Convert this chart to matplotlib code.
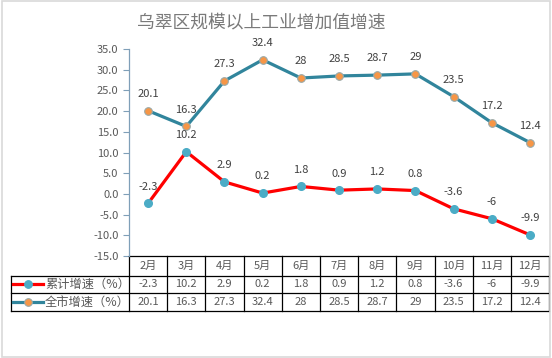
import matplotlib.pyplot as plt
from matplotlib.patches import Rectangle

plt.rcParams['font.family'] = ['Noto Sans CJK SC', 'DejaVu Sans']

months = ['2月', '3月', '4月', '5月', '6月', '7月', '8月', '9月', '10月', '11月', '12月']
cum_vals = [-2.3, 10.2, 2.9, 0.2, 1.8, 0.9, 1.2, 0.8, -3.6, -6, -9.9]
city_vals = [20.1, 16.3, 27.3, 32.4, 28, 28.5, 28.7, 29, 23.5, 17.2, 12.4]
cum_name = '累计增速（%）'
city_name = '全市增速（%）'
title = '乌翠区规模以上工业增加值增速'

gray = '#595959'
red = '#FF0000'
teal = '#31859C'
blue_mk = '#4BACC6'
orange_mk = '#F79646'

fig = plt.figure(figsize=(5.52, 3.58), dpi=100)
fig.patches.append(Rectangle((0.003, 0.004), 0.993, 0.993, transform=fig.transFigure,
                             fill=False, edgecolor='#D9D9D9', lw=1.2))
fig.text(0.473, 0.937, title, ha='center', va='center', fontsize=12.8, color='#7A7A7A')

ax = fig.add_axes([0.2337, 0.285, 0.761, 0.578])
x = list(range(len(months)))

ax.plot(x, city_vals, color=teal, lw=2.3, marker='o', ms=5.5,
        mfc=orange_mk, mec='#9AA9A8', mew=0.8, zorder=3)
ax.plot(x, cum_vals, color=red, lw=2.3, marker='o', ms=5.5,
        mfc=blue_mk, mec=blue_mk, zorder=3)

def fmt(v):
    return str(v)

for xi, v in zip(x, city_vals):
    ax.annotate(fmt(v), (xi, v), xytext=(0, 12), textcoords='offset points',
                ha='center', va='center', fontsize=8, color='#404040')
for xi, v in zip(x, cum_vals):
    ax.annotate(fmt(v), (xi, v), xytext=(0, 12), textcoords='offset points',
                ha='center', va='center', fontsize=8, color='#404040')

ax.set_xlim(-0.5, len(months) - 0.5)
ax.set_ylim(-15, 35)
ax.set_yticks(range(-15, 36, 5))
ax.set_yticklabels([f'{t:.1f}' for t in range(-15, 36, 5)])
ax.tick_params(axis='y', colors=gray, labelsize=8, length=4, width=0.8, direction='out')
ax.tick_params(axis='y', color='#7F9FB8')
ax.set_xticks([])
for s in ['top', 'right', 'bottom']:
    ax.spines[s].set_visible(False)
ax.spines['left'].set_color('#7F9FB8')
ax.spines['left'].set_linewidth(0.9)

# data table below the plot
ncol = len(months)
left = -0.2817
y0, y1, y2, y3 = 0.0, -0.0966, -0.1787, -0.2657
tk = dict(transform=ax.transAxes, clip_on=False, color='black', lw=0.9)
ax.plot([0, 1], [y0, y0], **tk)
for yy in (y1, y2, y3):
    ax.plot([left, 1], [yy, yy], **tk)
for i in range(ncol + 1):
    ax.plot([i / ncol, i / ncol], [y0, y3], **tk)
ax.plot([left, left], [y1, y3], **tk)

for i in range(ncol):
    cx = (i + 0.5) / ncol
    ax.text(cx, (y0 + y1) / 2, months[i], transform=ax.transAxes, ha='center', va='center',
            fontsize=8, color=gray)
    ax.text(cx, (y1 + y2) / 2, fmt(cum_vals[i]), transform=ax.transAxes, ha='center',
            va='center', fontsize=8, color=gray)
    ax.text(cx, (y2 + y3) / 2, fmt(city_vals[i]), transform=ax.transAxes, ha='center',
            va='center', fontsize=8, color=gray)

rows = [((y1 + y2) / 2, red, blue_mk, blue_mk, cum_name),
        ((y2 + y3) / 2, teal, orange_mk, '#9AA9A8', city_name)]
for yy, lc, mf, me, name in rows:
    ax.plot([-0.276, -0.205], [yy, yy], transform=ax.transAxes, clip_on=False,
            color=lc, lw=2.3)
    ax.plot([-0.2405], [yy], transform=ax.transAxes, clip_on=False, marker='o', ms=5.5,
            mfc=mf, mec=me, mew=0.8)
    ax.text(-0.2, yy, name, transform=ax.transAxes, ha='left', va='center',
            fontsize=8.8, color=gray)

fig.savefig('out.png', dpi=100)
